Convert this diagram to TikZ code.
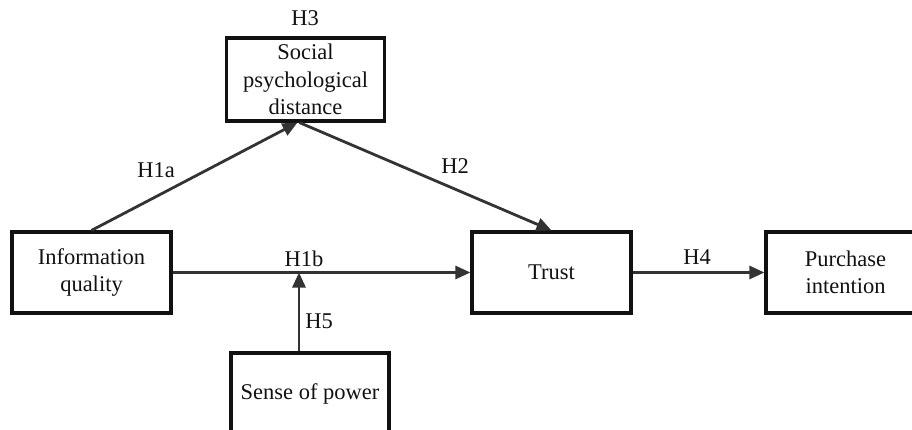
\documentclass[tikz,border=0pt]{standalone}
\usepackage{fontspec}
\setmainfont{Liberation Serif}
\usetikzlibrary{arrows.meta}
\definecolor{arrowgray}{HTML}{333333}
\definecolor{boxline}{HTML}{111111}
\tikzset{
  box/.style={draw=boxline, line width=3.2pt, rectangle, minimum width=158pt, minimum height=81pt, align=center, inner sep=0pt, text=boxline, font=\fontsize{22.5}{27.5}\selectfont},
  conn/.style={draw=arrowgray, line width=2.8pt, -{Triangle[length=15pt,width=13pt]}},
  lbl/.style={font=\fontsize{22.5}{27.5}\selectfont, inner sep=0pt, text=boxline}
}
\begin{document}
\begin{tikzpicture}[x=1pt,y=-1pt]
\useasboundingbox (0,0) rectangle (912,430);
\clip (0,0) rectangle (912,430);
\node[box, minimum height=83pt] (soc) at (305.5,79.5) {Social\\psychological\\distance};
\node[box, minimum width=159pt] (info) at (91.5,272.5) {Information\\quality};
\node[box, minimum width=159pt] (trust) at (551.5,272.5) {Trust};
\node[box, minimum width=159pt] (purch) at (845.5,272.5) {Purchase\\intention};
\node[box] (sense) at (310,393.5) {Sense of power};
\coordinate (socin) at ([xshift=-8pt]soc.south);
\coordinate (socout) at ([xshift=-6pt]soc.south);
\coordinate (sensout) at ([xshift=-11pt]sense.north);
\coordinate (mod) at (sensout |- info.east);
\draw[conn] (info.north) -- (socin);
\draw[conn] (socout) -- (trust.north);
\draw[conn] (info.east) -- (trust.west);
\draw[conn] (sensout) -- (mod);
\draw[conn] (trust.east) -- (purch.west);
\node[lbl] (h3) at (305,18) {H3};
\node[lbl] (h1a) at (156,170) {H1a};
\node[lbl] (h2) at (455,166) {H2};
\node[lbl] (h1b) at (304,259) {H1b};
\node[lbl] (h5) at (319,321) {H5};
\node[lbl] (h4) at (697,257) {H4};
\end{tikzpicture}
\end{document}
